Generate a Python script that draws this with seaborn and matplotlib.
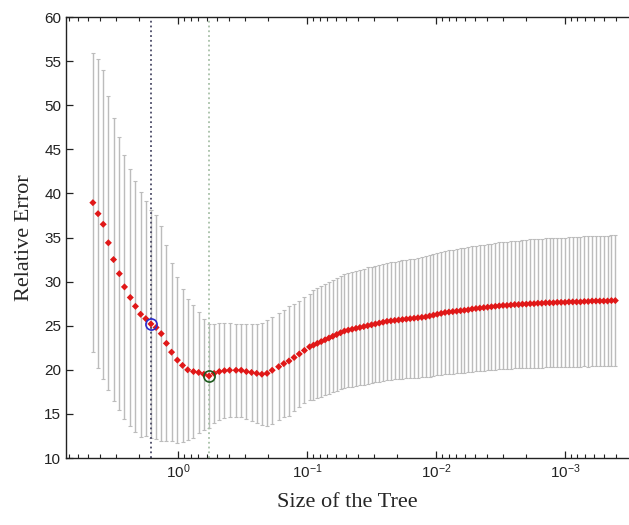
import numpy as np
import matplotlib
matplotlib.use("Agg")
import matplotlib.pyplot as plt
import seaborn as sns

# log10 of the tree size (cp)
log_size = [0.66, 0.62, 0.58, 0.54, 0.50, 0.455, 0.415, 0.37, 0.33, 0.29,
            0.25, 0.21, 0.17, 0.13, 0.09, 0.05, 0.005, -0.035, -0.075, -0.12,
            -0.16, -0.20, -0.24, -0.28, -0.32, -0.36, -0.40, -0.45, -0.49, -0.53,
            -0.57, -0.61, -0.65, -0.69, -0.73, -0.78, -0.82, -0.86, -0.90, -0.94,
            -0.98, -1.02,
            -1.05, -1.08, -1.11, -1.14, -1.17, -1.20, -1.23, -1.26, -1.29, -1.32,
            -1.35, -1.38, -1.41, -1.44, -1.47, -1.50, -1.53, -1.56, -1.59, -1.62,
            -1.65, -1.68, -1.71, -1.74, -1.77, -1.80, -1.83, -1.86, -1.89, -1.92,
            -1.95, -1.98, -2.01, -2.04, -2.07, -2.10, -2.13, -2.16, -2.19, -2.22,
            -2.25, -2.28, -2.31, -2.34, -2.37, -2.40, -2.43, -2.46, -2.49, -2.52,
            -2.55, -2.58, -2.61, -2.64, -2.67, -2.70, -2.73, -2.76, -2.79, -2.82,
            -2.85, -2.88, -2.91, -2.94, -2.97, -3.00, -3.03, -3.06, -3.09, -3.12,
            -3.15, -3.18, -3.21, -3.24, -3.27, -3.30, -3.33, -3.36, -3.39]

rel_error = [38.95, 37.7, 36.5, 34.4, 32.5, 30.9, 29.4, 28.2, 27.2, 26.3,
             25.8, 25.2, 24.8, 24.1, 23.0, 22.0, 21.1, 20.5, 20.0, 19.8,
             19.7, 19.5, 19.3, 19.6, 19.8, 19.9, 19.95, 19.95, 19.95, 19.8,
             19.7, 19.6, 19.5, 19.6, 19.95, 20.35, 20.7, 21.0, 21.4, 21.8,
             22.2, 22.6,
             22.8, 23.0, 23.2, 23.4, 23.6, 23.8, 24.0, 24.2, 24.4, 24.5,
             24.6, 24.7, 24.8, 24.9, 25.0, 25.1, 25.2, 25.3, 25.4, 25.5,
             25.55, 25.6, 25.65, 25.7, 25.75, 25.8, 25.85, 25.9, 25.95, 26.0,
             26.1, 26.2, 26.3, 26.4, 26.5, 26.55, 26.6, 26.65, 26.7, 26.75,
             26.8, 26.9, 26.95, 27.0, 27.05, 27.1, 27.15, 27.2, 27.25, 27.3,
             27.3, 27.35, 27.4, 27.4, 27.45, 27.45, 27.5, 27.5, 27.55, 27.55,
             27.6, 27.6, 27.6, 27.65, 27.65, 27.65, 27.7, 27.7, 27.7, 27.7,
             27.75, 27.75, 27.8, 27.8, 27.8, 27.8, 27.8, 27.85, 27.85]

error_sd = [16.95, 17.5, 17.5, 16.7, 16.0, 15.5, 15.0, 14.6, 14.2, 13.9,
            13.3, 12.9, 12.7, 12.2, 11.1, 10.1, 9.4, 8.7, 8.0, 7.5,
            6.9, 6.3, 5.9, 5.6, 5.5, 5.4, 5.35, 5.3, 5.3, 5.4,
            5.5, 5.6, 5.8, 6.0, 6.05, 6.05, 6.1, 6.2, 6.1, 6.0,
            6.0, 6.0,
            6.2, 6.22, 6.25, 6.28, 6.3, 6.35, 6.38, 6.4, 6.45, 6.48,
            6.5, 6.52, 6.55, 6.57, 6.6, 6.6, 6.62, 6.63, 6.65, 6.66,
            6.67, 6.68, 6.7, 6.71, 6.73, 6.75, 6.77, 6.79, 6.82, 6.85,
            6.88, 6.9, 6.92, 6.95, 6.97, 7.0, 7.02, 7.04, 7.06, 7.08,
            7.1, 7.11, 7.13, 7.14, 7.15, 7.16, 7.17, 7.18, 7.2, 7.21,
            7.22, 7.23, 7.24, 7.25, 7.26, 7.27, 7.28, 7.3, 7.3, 7.31,
            7.32, 7.33, 7.33, 7.34, 7.34, 7.35, 7.35, 7.36, 7.36, 7.37,
            7.37, 7.38, 7.38, 7.39, 7.39, 7.4, 7.4, 7.4, 7.4]

se_idx = 11    # blue circle (1-SE rule)
min_idx = 22   # green circle (minimum error)

sns.set_style("ticks")
plt.rcParams['font.family'] = ['Liberation Sans', 'DejaVu Sans']
plt.rcParams['mathtext.default'] = 'regular'

size = 10 ** np.array(log_size)
err = np.array(rel_error)

fig = plt.figure(figsize=(6.29, 5.25), dpi=100)
ax = fig.add_axes([0.105, 0.1276, 0.895, 0.84])

ax.errorbar(size, err, yerr=error_sd, fmt='none', ecolor='#bcbcbc',
            elinewidth=1.0, capsize=1.5, capthick=0.8, zorder=1)
ax.axvline(size[se_idx], color='#4a4a66', ls=':', lw=1.3, zorder=2)
ax.axvline(size[min_idx], color='#a8c0a8', ls=':', lw=1.3, zorder=2)
sns.scatterplot(x=size, y=err, marker='D', color='#e01818', s=13,
                edgecolor='none', ax=ax, zorder=3)
ax.plot(size[se_idx], err[se_idx], 'o', mfc='none', mec='#2a2acc', ms=8, mew=1.2, zorder=4)
ax.plot(size[min_idx], err[min_idx], 'o', mfc='none', mec='#1d5a1d', ms=8, mew=1.2, zorder=4)

ax.set_xscale('log')
ax.set_xlim(7.38, 3.19e-4)
ax.set_ylim(10, 60)
ax.set_yticks(range(10, 61, 5))

ax.tick_params(which='both', direction='in', top=True, right=False, colors='#222222', labelsize=11)
ax.tick_params(which='major', length=5, width=0.9)
ax.tick_params(which='minor', length=3, width=0.8)
for sp in ax.spines.values():
    sp.set_color('#222222')
    sp.set_linewidth(1.0)
ax.spines['right'].set_visible(False)

ax.set_xlabel('Size of the Tree', family=['Liberation Serif'], fontsize=16, labelpad=8)
ax.set_ylabel('Relative Error', family=['Liberation Serif'], fontsize=16, labelpad=7)

fig.savefig('out.png', dpi=100)
